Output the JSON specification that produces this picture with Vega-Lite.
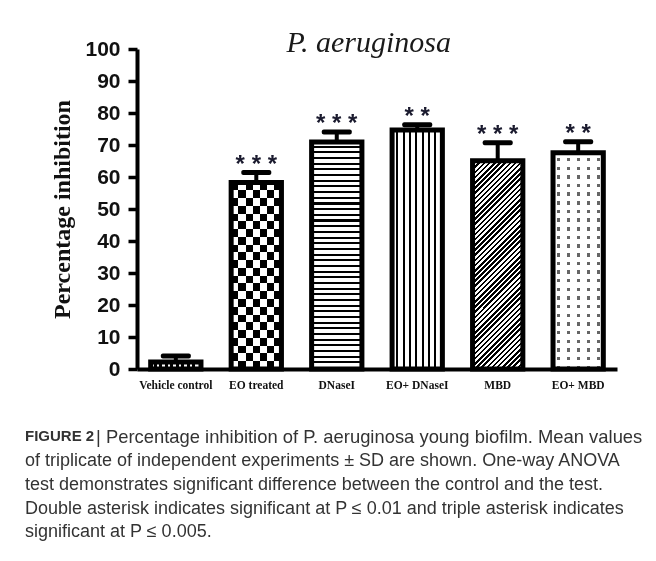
{
  "$schema": "https://vega.github.io/schema/vega-lite/v6.json",
  "autosize": {"type": "none"},
  "padding": {"left": 137, "top": 49, "right": 39, "bottom": 192},
  "width": 480,
  "height": 320,
  "background": "#ffffff",
  "config": {"view": {"stroke": null}},
  "title": {
    "text": "FIGURE 2",
    "subtitle": [
      "of triplicate of independent experiments ± SD are shown. One-way ANOVA",
      "test demonstrates significant difference between the control and the test.",
      "Double asterisk indicates significant at P ≤ 0.01 and triple asterisk indicates",
      "significant at P ≤ 0.005."
    ],
    "orient": "bottom",
    "anchor": "start",
    "frame": "group",
    "dx": -112,
    "offset": -4,
    "baseline": "alphabetic",
    "font": "Liberation Sans",
    "fontSize": 15,
    "fontWeight": "bold",
    "color": "#333333",
    "subtitleFont": "Liberation Sans",
    "subtitleFontSize": 18,
    "subtitleFontWeight": "normal",
    "subtitleColor": "#333333",
    "subtitleLineHeight": 23.7,
    "subtitlePadding": 10
  },
  "datasets": {
    "bars": [
      {"group": "Vehicle control", "mean": 2.2, "hi": 4.1, "sig": ""},
      {"group": "EO treated", "mean": 58.3, "hi": 61.4, "sig": "* * *"},
      {"group": "DNaseI", "mean": 70.9, "hi": 74.1, "sig": "* * *"},
      {"group": "EO+  DNaseI", "mean": 74.7, "hi": 76.3, "sig": "* *"},
      {"group": "MBD", "mean": 65.1, "hi": 70.7, "sig": "* * *"},
      {"group": "EO+ MBD", "mean": 67.6, "hi": 71.0, "sig": "* *"}
    ]
  },
  "data": {"name": "bars"},
  "encoding": {
    "x": {
      "field": "group",
      "type": "nominal",
      "scale": {
        "domain": ["Vehicle control", "EO treated", "DNaseI", "EO+  DNaseI", "MBD", "EO+ MBD"],
        "paddingInner": 0.375,
        "paddingOuter": 0.17
      },
      "axis": {
        "labelAngle": 0,
        "labelFont": "Liberation Serif",
        "labelFontWeight": "bold",
        "labelFontSize": 11.5,
        "labelColor": "#111111",
        "labelPadding": 10,
        "ticks": false,
        "tickSize": 0,
        "domainWidth": 4,
        "domainColor": "#000000",
        "title": "| Percentage inhibition of P. aeruginosa young biofilm. Mean values",
        "titleX": -41.5,
        "titleY": 73,
        "titleAlign": "left",
        "titleAnchor": "start",
        "titleBaseline": "alphabetic",
        "titleFont": "Liberation Sans",
        "titleFontSize": 18.4,
        "titleFontWeight": "normal",
        "titleColor": "#333333"
      }
    },
    "y": {
      "field": "mean",
      "type": "quantitative",
      "scale": {"domain": [0, 100], "nice": false},
      "axis": {
        "values": [0, 10, 20, 30, 40, 50, 60, 70, 80, 90, 100],
        "grid": false,
        "labelFont": "Liberation Sans",
        "labelFontWeight": "bold",
        "labelFontSize": 21,
        "labelColor": "#111111",
        "labelPadding": 8,
        "tickSize": 9,
        "tickWidth": 3.5,
        "tickColor": "#000000",
        "domainWidth": 4,
        "domainColor": "#000000",
        "title": "Percentage inhibition",
        "titleFont": "Liberation Serif",
        "titleFontSize": 24,
        "titleFontWeight": "bold",
        "titleColor": "#111111",
        "titlePadding": 10
      }
    }
  },
  "layer": [
    {
      "transform": [{"filter": "datum.group === 'Vehicle control'"}],
      "mark": {"type": "bar", "stroke": "#000000", "strokeWidth": 5,
        "fill": {"gradient": "linear", "x1": 0, "y1": 0, "x2": 1, "y2": 0, "stops": [
          {"offset": 0, "color": "#fff"}, {"offset": 0.06, "color": "#fff"},
          {"offset": 0.06, "color": "#000"}, {"offset": 0.12, "color": "#000"},
          {"offset": 0.12, "color": "#fff"}, {"offset": 0.17, "color": "#fff"},
          {"offset": 0.17, "color": "#000"}, {"offset": 0.23, "color": "#000"},
          {"offset": 0.23, "color": "#fff"}, {"offset": 0.28, "color": "#fff"},
          {"offset": 0.28, "color": "#000"}, {"offset": 0.34, "color": "#000"},
          {"offset": 0.34, "color": "#fff"}, {"offset": 0.39, "color": "#fff"},
          {"offset": 0.39, "color": "#000"}, {"offset": 0.45, "color": "#000"},
          {"offset": 0.45, "color": "#fff"}, {"offset": 0.5, "color": "#fff"},
          {"offset": 0.5, "color": "#000"}, {"offset": 0.56, "color": "#000"},
          {"offset": 0.56, "color": "#fff"}, {"offset": 0.61, "color": "#fff"},
          {"offset": 0.61, "color": "#000"}, {"offset": 0.67, "color": "#000"},
          {"offset": 0.67, "color": "#fff"}, {"offset": 0.72, "color": "#fff"},
          {"offset": 0.72, "color": "#000"}, {"offset": 0.78, "color": "#000"},
          {"offset": 0.78, "color": "#fff"}, {"offset": 0.83, "color": "#fff"},
          {"offset": 0.83, "color": "#000"}, {"offset": 0.89, "color": "#000"},
          {"offset": 0.89, "color": "#fff"}, {"offset": 1, "color": "#fff"}
        ]}}
    },
    {
      "transform": [{"filter": "datum.group === 'EO treated'"}],
      "mark": {"type": "bar", "stroke": "#000000", "strokeWidth": 5,
        "fill": {"gradient": "linear", "x1": 0, "y1": 0, "x2": 0, "y2": 1, "stops": [
          {"offset": 0, "color": "#000"}, {"offset": 0.0417, "color": "#000"},
          {"offset": 0.0417, "color": "#fff"}, {"offset": 0.0833, "color": "#fff"},
          {"offset": 0.0833, "color": "#000"}, {"offset": 0.125, "color": "#000"},
          {"offset": 0.125, "color": "#fff"}, {"offset": 0.1667, "color": "#fff"},
          {"offset": 0.1667, "color": "#000"}, {"offset": 0.2083, "color": "#000"},
          {"offset": 0.2083, "color": "#fff"}, {"offset": 0.25, "color": "#fff"},
          {"offset": 0.25, "color": "#000"}, {"offset": 0.2917, "color": "#000"},
          {"offset": 0.2917, "color": "#fff"}, {"offset": 0.3333, "color": "#fff"},
          {"offset": 0.3333, "color": "#000"}, {"offset": 0.375, "color": "#000"},
          {"offset": 0.375, "color": "#fff"}, {"offset": 0.4167, "color": "#fff"},
          {"offset": 0.4167, "color": "#000"}, {"offset": 0.4583, "color": "#000"},
          {"offset": 0.4583, "color": "#fff"}, {"offset": 0.5, "color": "#fff"},
          {"offset": 0.5, "color": "#000"}, {"offset": 0.5417, "color": "#000"},
          {"offset": 0.5417, "color": "#fff"}, {"offset": 0.5833, "color": "#fff"},
          {"offset": 0.5833, "color": "#000"}, {"offset": 0.625, "color": "#000"},
          {"offset": 0.625, "color": "#fff"}, {"offset": 0.6667, "color": "#fff"},
          {"offset": 0.6667, "color": "#000"}, {"offset": 0.7083, "color": "#000"},
          {"offset": 0.7083, "color": "#fff"}, {"offset": 0.75, "color": "#fff"},
          {"offset": 0.75, "color": "#000"}, {"offset": 0.7917, "color": "#000"},
          {"offset": 0.7917, "color": "#fff"}, {"offset": 0.8333, "color": "#fff"},
          {"offset": 0.8333, "color": "#000"}, {"offset": 0.875, "color": "#000"},
          {"offset": 0.875, "color": "#fff"}, {"offset": 0.9167, "color": "#fff"},
          {"offset": 0.9167, "color": "#000"}, {"offset": 0.9583, "color": "#000"},
          {"offset": 0.9583, "color": "#fff"}, {"offset": 1, "color": "#fff"}
        ]}}
    },
    {
      "transform": [{"filter": "datum.group === 'EO treated'"}],
      "mark": {"type": "bar", "stroke": "#000000", "strokeWidth": 5, "blend": "difference",
        "fill": {"gradient": "linear", "x1": 0, "y1": 0, "x2": 1, "y2": 0, "stops": [
          {"offset": 0, "color": "#000"}, {"offset": 0.1429, "color": "#000"},
          {"offset": 0.1429, "color": "#fff"}, {"offset": 0.2857, "color": "#fff"},
          {"offset": 0.2857, "color": "#000"}, {"offset": 0.4286, "color": "#000"},
          {"offset": 0.4286, "color": "#fff"}, {"offset": 0.5714, "color": "#fff"},
          {"offset": 0.5714, "color": "#000"}, {"offset": 0.7143, "color": "#000"},
          {"offset": 0.7143, "color": "#fff"}, {"offset": 0.8571, "color": "#fff"},
          {"offset": 0.8571, "color": "#000"}, {"offset": 1, "color": "#000"}
        ]}}
    },
    {
      "transform": [{"filter": "datum.group === 'DNaseI'"}],
      "mark": {"type": "bar", "stroke": "#000000", "strokeWidth": 5,
        "fill": {"gradient": "linear", "x1": 0, "y1": 0, "x2": 0, "y2": 1, "stops": [
          {"offset": 0, "color": "#fff"}, {"offset": 0.016, "color": "#fff"}, {"offset": 0.016, "color": "#000"}, {"offset": 0.025, "color": "#000"},
          {"offset": 0.025, "color": "#fff"}, {"offset": 0.041, "color": "#fff"}, {"offset": 0.041, "color": "#000"}, {"offset": 0.05, "color": "#000"},
          {"offset": 0.05, "color": "#fff"}, {"offset": 0.066, "color": "#fff"}, {"offset": 0.066, "color": "#000"}, {"offset": 0.075, "color": "#000"},
          {"offset": 0.075, "color": "#fff"}, {"offset": 0.091, "color": "#fff"}, {"offset": 0.091, "color": "#000"}, {"offset": 0.1, "color": "#000"},
          {"offset": 0.1, "color": "#fff"}, {"offset": 0.116, "color": "#fff"}, {"offset": 0.116, "color": "#000"}, {"offset": 0.125, "color": "#000"},
          {"offset": 0.125, "color": "#fff"}, {"offset": 0.141, "color": "#fff"}, {"offset": 0.141, "color": "#000"}, {"offset": 0.15, "color": "#000"},
          {"offset": 0.15, "color": "#fff"}, {"offset": 0.166, "color": "#fff"}, {"offset": 0.166, "color": "#000"}, {"offset": 0.175, "color": "#000"},
          {"offset": 0.175, "color": "#fff"}, {"offset": 0.191, "color": "#fff"}, {"offset": 0.191, "color": "#000"}, {"offset": 0.2, "color": "#000"},
          {"offset": 0.2, "color": "#fff"}, {"offset": 0.216, "color": "#fff"}, {"offset": 0.216, "color": "#000"}, {"offset": 0.225, "color": "#000"},
          {"offset": 0.225, "color": "#fff"}, {"offset": 0.241, "color": "#fff"}, {"offset": 0.241, "color": "#000"}, {"offset": 0.25, "color": "#000"},
          {"offset": 0.25, "color": "#fff"}, {"offset": 0.266, "color": "#fff"}, {"offset": 0.266, "color": "#000"}, {"offset": 0.275, "color": "#000"},
          {"offset": 0.275, "color": "#fff"}, {"offset": 0.291, "color": "#fff"}, {"offset": 0.291, "color": "#000"}, {"offset": 0.3, "color": "#000"},
          {"offset": 0.3, "color": "#fff"}, {"offset": 0.316, "color": "#fff"}, {"offset": 0.316, "color": "#000"}, {"offset": 0.325, "color": "#000"},
          {"offset": 0.325, "color": "#fff"}, {"offset": 0.341, "color": "#fff"}, {"offset": 0.341, "color": "#000"}, {"offset": 0.35, "color": "#000"},
          {"offset": 0.35, "color": "#fff"}, {"offset": 0.366, "color": "#fff"}, {"offset": 0.366, "color": "#000"}, {"offset": 0.375, "color": "#000"},
          {"offset": 0.375, "color": "#fff"}, {"offset": 0.391, "color": "#fff"}, {"offset": 0.391, "color": "#000"}, {"offset": 0.4, "color": "#000"},
          {"offset": 0.4, "color": "#fff"}, {"offset": 0.416, "color": "#fff"}, {"offset": 0.416, "color": "#000"}, {"offset": 0.425, "color": "#000"},
          {"offset": 0.425, "color": "#fff"}, {"offset": 0.441, "color": "#fff"}, {"offset": 0.441, "color": "#000"}, {"offset": 0.45, "color": "#000"},
          {"offset": 0.45, "color": "#fff"}, {"offset": 0.466, "color": "#fff"}, {"offset": 0.466, "color": "#000"}, {"offset": 0.475, "color": "#000"},
          {"offset": 0.475, "color": "#fff"}, {"offset": 0.491, "color": "#fff"}, {"offset": 0.491, "color": "#000"}, {"offset": 0.5, "color": "#000"},
          {"offset": 0.5, "color": "#fff"}, {"offset": 0.516, "color": "#fff"}, {"offset": 0.516, "color": "#000"}, {"offset": 0.525, "color": "#000"},
          {"offset": 0.525, "color": "#fff"}, {"offset": 0.541, "color": "#fff"}, {"offset": 0.541, "color": "#000"}, {"offset": 0.55, "color": "#000"},
          {"offset": 0.55, "color": "#fff"}, {"offset": 0.566, "color": "#fff"}, {"offset": 0.566, "color": "#000"}, {"offset": 0.575, "color": "#000"},
          {"offset": 0.575, "color": "#fff"}, {"offset": 0.591, "color": "#fff"}, {"offset": 0.591, "color": "#000"}, {"offset": 0.6, "color": "#000"},
          {"offset": 0.6, "color": "#fff"}, {"offset": 0.616, "color": "#fff"}, {"offset": 0.616, "color": "#000"}, {"offset": 0.625, "color": "#000"},
          {"offset": 0.625, "color": "#fff"}, {"offset": 0.641, "color": "#fff"}, {"offset": 0.641, "color": "#000"}, {"offset": 0.65, "color": "#000"},
          {"offset": 0.65, "color": "#fff"}, {"offset": 0.666, "color": "#fff"}, {"offset": 0.666, "color": "#000"}, {"offset": 0.675, "color": "#000"},
          {"offset": 0.675, "color": "#fff"}, {"offset": 0.691, "color": "#fff"}, {"offset": 0.691, "color": "#000"}, {"offset": 0.7, "color": "#000"},
          {"offset": 0.7, "color": "#fff"}, {"offset": 0.716, "color": "#fff"}, {"offset": 0.716, "color": "#000"}, {"offset": 0.725, "color": "#000"},
          {"offset": 0.725, "color": "#fff"}, {"offset": 0.741, "color": "#fff"}, {"offset": 0.741, "color": "#000"}, {"offset": 0.75, "color": "#000"},
          {"offset": 0.75, "color": "#fff"}, {"offset": 0.766, "color": "#fff"}, {"offset": 0.766, "color": "#000"}, {"offset": 0.775, "color": "#000"},
          {"offset": 0.775, "color": "#fff"}, {"offset": 0.791, "color": "#fff"}, {"offset": 0.791, "color": "#000"}, {"offset": 0.8, "color": "#000"},
          {"offset": 0.8, "color": "#fff"}, {"offset": 0.816, "color": "#fff"}, {"offset": 0.816, "color": "#000"}, {"offset": 0.825, "color": "#000"},
          {"offset": 0.825, "color": "#fff"}, {"offset": 0.841, "color": "#fff"}, {"offset": 0.841, "color": "#000"}, {"offset": 0.85, "color": "#000"},
          {"offset": 0.85, "color": "#fff"}, {"offset": 0.866, "color": "#fff"}, {"offset": 0.866, "color": "#000"}, {"offset": 0.875, "color": "#000"},
          {"offset": 0.875, "color": "#fff"}, {"offset": 0.891, "color": "#fff"}, {"offset": 0.891, "color": "#000"}, {"offset": 0.9, "color": "#000"},
          {"offset": 0.9, "color": "#fff"}, {"offset": 0.916, "color": "#fff"}, {"offset": 0.916, "color": "#000"}, {"offset": 0.925, "color": "#000"},
          {"offset": 0.925, "color": "#fff"}, {"offset": 0.941, "color": "#fff"}, {"offset": 0.941, "color": "#000"}, {"offset": 0.95, "color": "#000"},
          {"offset": 0.95, "color": "#fff"}, {"offset": 0.966, "color": "#fff"}, {"offset": 0.966, "color": "#000"}, {"offset": 0.975, "color": "#000"},
          {"offset": 0.975, "color": "#fff"}, {"offset": 0.991, "color": "#fff"}, {"offset": 0.991, "color": "#000"}, {"offset": 1, "color": "#000"}
        ]}}
    },
    {
      "transform": [{"filter": "datum.group === 'EO+  DNaseI'"}],
      "mark": {"type": "bar", "stroke": "#000000", "strokeWidth": 5,
        "fill": {"gradient": "linear", "x1": 0, "y1": 0, "x2": 1, "y2": 0, "stops": [
          {"offset": 0, "color": "#fff"}, {"offset": 0.085, "color": "#fff"}, {"offset": 0.085, "color": "#000"}, {"offset": 0.125, "color": "#000"},
          {"offset": 0.125, "color": "#fff"}, {"offset": 0.21, "color": "#fff"}, {"offset": 0.21, "color": "#000"}, {"offset": 0.25, "color": "#000"},
          {"offset": 0.25, "color": "#fff"}, {"offset": 0.335, "color": "#fff"}, {"offset": 0.335, "color": "#000"}, {"offset": 0.375, "color": "#000"},
          {"offset": 0.375, "color": "#fff"}, {"offset": 0.46, "color": "#fff"}, {"offset": 0.46, "color": "#000"}, {"offset": 0.5, "color": "#000"},
          {"offset": 0.5, "color": "#fff"}, {"offset": 0.585, "color": "#fff"}, {"offset": 0.585, "color": "#000"}, {"offset": 0.625, "color": "#000"},
          {"offset": 0.625, "color": "#fff"}, {"offset": 0.71, "color": "#fff"}, {"offset": 0.71, "color": "#000"}, {"offset": 0.75, "color": "#000"},
          {"offset": 0.75, "color": "#fff"}, {"offset": 0.835, "color": "#fff"}, {"offset": 0.835, "color": "#000"}, {"offset": 0.875, "color": "#000"},
          {"offset": 0.875, "color": "#fff"}, {"offset": 0.96, "color": "#fff"}, {"offset": 0.96, "color": "#000"}, {"offset": 1, "color": "#000"}
        ]}}
    },
    {
      "transform": [{"filter": "datum.group === 'MBD'"}],
      "mark": {"type": "bar", "stroke": "#000000", "strokeWidth": 5,
        "fill": {"gradient": "linear", "x1": 0, "y1": 0, "x2": 0.2833, "y2": 1.1731, "stops": [
          {"offset": 0, "color": "#fff"}, {"offset": 0.01, "color": "#fff"}, {"offset": 0.01, "color": "#000"}, {"offset": 0.02, "color": "#000"},
          {"offset": 0.02, "color": "#fff"}, {"offset": 0.03, "color": "#fff"}, {"offset": 0.03, "color": "#000"}, {"offset": 0.04, "color": "#000"},
          {"offset": 0.04, "color": "#fff"}, {"offset": 0.05, "color": "#fff"}, {"offset": 0.05, "color": "#000"}, {"offset": 0.06, "color": "#000"},
          {"offset": 0.06, "color": "#fff"}, {"offset": 0.07, "color": "#fff"}, {"offset": 0.07, "color": "#000"}, {"offset": 0.08, "color": "#000"},
          {"offset": 0.08, "color": "#fff"}, {"offset": 0.09, "color": "#fff"}, {"offset": 0.09, "color": "#000"}, {"offset": 0.1, "color": "#000"},
          {"offset": 0.1, "color": "#fff"}, {"offset": 0.11, "color": "#fff"}, {"offset": 0.11, "color": "#000"}, {"offset": 0.12, "color": "#000"},
          {"offset": 0.12, "color": "#fff"}, {"offset": 0.13, "color": "#fff"}, {"offset": 0.13, "color": "#000"}, {"offset": 0.14, "color": "#000"},
          {"offset": 0.14, "color": "#fff"}, {"offset": 0.15, "color": "#fff"}, {"offset": 0.15, "color": "#000"}, {"offset": 0.16, "color": "#000"},
          {"offset": 0.16, "color": "#fff"}, {"offset": 0.17, "color": "#fff"}, {"offset": 0.17, "color": "#000"}, {"offset": 0.18, "color": "#000"},
          {"offset": 0.18, "color": "#fff"}, {"offset": 0.19, "color": "#fff"}, {"offset": 0.19, "color": "#000"}, {"offset": 0.2, "color": "#000"},
          {"offset": 0.2, "color": "#fff"}, {"offset": 0.21, "color": "#fff"}, {"offset": 0.21, "color": "#000"}, {"offset": 0.22, "color": "#000"},
          {"offset": 0.22, "color": "#fff"}, {"offset": 0.23, "color": "#fff"}, {"offset": 0.23, "color": "#000"}, {"offset": 0.24, "color": "#000"},
          {"offset": 0.24, "color": "#fff"}, {"offset": 0.25, "color": "#fff"}, {"offset": 0.25, "color": "#000"}, {"offset": 0.26, "color": "#000"},
          {"offset": 0.26, "color": "#fff"}, {"offset": 0.27, "color": "#fff"}, {"offset": 0.27, "color": "#000"}, {"offset": 0.28, "color": "#000"},
          {"offset": 0.28, "color": "#fff"}, {"offset": 0.29, "color": "#fff"}, {"offset": 0.29, "color": "#000"}, {"offset": 0.3, "color": "#000"},
          {"offset": 0.3, "color": "#fff"}, {"offset": 0.31, "color": "#fff"}, {"offset": 0.31, "color": "#000"}, {"offset": 0.32, "color": "#000"},
          {"offset": 0.32, "color": "#fff"}, {"offset": 0.33, "color": "#fff"}, {"offset": 0.33, "color": "#000"}, {"offset": 0.34, "color": "#000"},
          {"offset": 0.34, "color": "#fff"}, {"offset": 0.35, "color": "#fff"}, {"offset": 0.35, "color": "#000"}, {"offset": 0.36, "color": "#000"},
          {"offset": 0.36, "color": "#fff"}, {"offset": 0.37, "color": "#fff"}, {"offset": 0.37, "color": "#000"}, {"offset": 0.38, "color": "#000"},
          {"offset": 0.38, "color": "#fff"}, {"offset": 0.39, "color": "#fff"}, {"offset": 0.39, "color": "#000"}, {"offset": 0.4, "color": "#000"},
          {"offset": 0.4, "color": "#fff"}, {"offset": 0.41, "color": "#fff"}, {"offset": 0.41, "color": "#000"}, {"offset": 0.42, "color": "#000"},
          {"offset": 0.42, "color": "#fff"}, {"offset": 0.43, "color": "#fff"}, {"offset": 0.43, "color": "#000"}, {"offset": 0.44, "color": "#000"},
          {"offset": 0.44, "color": "#fff"}, {"offset": 0.45, "color": "#fff"}, {"offset": 0.45, "color": "#000"}, {"offset": 0.46, "color": "#000"},
          {"offset": 0.46, "color": "#fff"}, {"offset": 0.47, "color": "#fff"}, {"offset": 0.47, "color": "#000"}, {"offset": 0.48, "color": "#000"},
          {"offset": 0.48, "color": "#fff"}, {"offset": 0.49, "color": "#fff"}, {"offset": 0.49, "color": "#000"}, {"offset": 0.5, "color": "#000"},
          {"offset": 0.5, "color": "#fff"}, {"offset": 0.51, "color": "#fff"}, {"offset": 0.51, "color": "#000"}, {"offset": 0.52, "color": "#000"},
          {"offset": 0.52, "color": "#fff"}, {"offset": 0.53, "color": "#fff"}, {"offset": 0.53, "color": "#000"}, {"offset": 0.54, "color": "#000"},
          {"offset": 0.54, "color": "#fff"}, {"offset": 0.55, "color": "#fff"}, {"offset": 0.55, "color": "#000"}, {"offset": 0.56, "color": "#000"},
          {"offset": 0.56, "color": "#fff"}, {"offset": 0.57, "color": "#fff"}, {"offset": 0.57, "color": "#000"}, {"offset": 0.58, "color": "#000"},
          {"offset": 0.58, "color": "#fff"}, {"offset": 0.59, "color": "#fff"}, {"offset": 0.59, "color": "#000"}, {"offset": 0.6, "color": "#000"},
          {"offset": 0.6, "color": "#fff"}, {"offset": 0.61, "color": "#fff"}, {"offset": 0.61, "color": "#000"}, {"offset": 0.62, "color": "#000"},
          {"offset": 0.62, "color": "#fff"}, {"offset": 0.63, "color": "#fff"}, {"offset": 0.63, "color": "#000"}, {"offset": 0.64, "color": "#000"},
          {"offset": 0.64, "color": "#fff"}, {"offset": 0.65, "color": "#fff"}, {"offset": 0.65, "color": "#000"}, {"offset": 0.66, "color": "#000"},
          {"offset": 0.66, "color": "#fff"}, {"offset": 0.67, "color": "#fff"}, {"offset": 0.67, "color": "#000"}, {"offset": 0.68, "color": "#000"},
          {"offset": 0.68, "color": "#fff"}, {"offset": 0.69, "color": "#fff"}, {"offset": 0.69, "color": "#000"}, {"offset": 0.7, "color": "#000"},
          {"offset": 0.7, "color": "#fff"}, {"offset": 0.71, "color": "#fff"}, {"offset": 0.71, "color": "#000"}, {"offset": 0.72, "color": "#000"},
          {"offset": 0.72, "color": "#fff"}, {"offset": 0.73, "color": "#fff"}, {"offset": 0.73, "color": "#000"}, {"offset": 0.74, "color": "#000"},
          {"offset": 0.74, "color": "#fff"}, {"offset": 0.75, "color": "#fff"}, {"offset": 0.75, "color": "#000"}, {"offset": 0.76, "color": "#000"},
          {"offset": 0.76, "color": "#fff"}, {"offset": 0.77, "color": "#fff"}, {"offset": 0.77, "color": "#000"}, {"offset": 0.78, "color": "#000"},
          {"offset": 0.78, "color": "#fff"}, {"offset": 0.79, "color": "#fff"}, {"offset": 0.79, "color": "#000"}, {"offset": 0.8, "color": "#000"},
          {"offset": 0.8, "color": "#fff"}, {"offset": 0.81, "color": "#fff"}, {"offset": 0.81, "color": "#000"}, {"offset": 0.82, "color": "#000"},
          {"offset": 0.82, "color": "#fff"}, {"offset": 0.83, "color": "#fff"}, {"offset": 0.83, "color": "#000"}, {"offset": 0.84, "color": "#000"},
          {"offset": 0.84, "color": "#fff"}, {"offset": 0.85, "color": "#fff"}, {"offset": 0.85, "color": "#000"}, {"offset": 0.86, "color": "#000"},
          {"offset": 0.86, "color": "#fff"}, {"offset": 0.87, "color": "#fff"}, {"offset": 0.87, "color": "#000"}, {"offset": 0.88, "color": "#000"},
          {"offset": 0.88, "color": "#fff"}, {"offset": 0.89, "color": "#fff"}, {"offset": 0.89, "color": "#000"}, {"offset": 0.9, "color": "#000"},
          {"offset": 0.9, "color": "#fff"}, {"offset": 0.91, "color": "#fff"}, {"offset": 0.91, "color": "#000"}, {"offset": 0.92, "color": "#000"},
          {"offset": 0.92, "color": "#fff"}, {"offset": 0.93, "color": "#fff"}, {"offset": 0.93, "color": "#000"}, {"offset": 0.94, "color": "#000"},
          {"offset": 0.94, "color": "#fff"}, {"offset": 0.95, "color": "#fff"}, {"offset": 0.95, "color": "#000"}, {"offset": 0.96, "color": "#000"},
          {"offset": 0.96, "color": "#fff"}, {"offset": 0.97, "color": "#fff"}, {"offset": 0.97, "color": "#000"}, {"offset": 0.98, "color": "#000"},
          {"offset": 0.98, "color": "#fff"}, {"offset": 0.99, "color": "#fff"}, {"offset": 0.99, "color": "#000"}, {"offset": 1, "color": "#000"}
        ]}}
    },
    {
      "transform": [{"filter": "datum.group === 'EO+ MBD'"}],
      "mark": {"type": "bar", "stroke": "#000000", "strokeWidth": 5,
        "fill": {"gradient": "linear", "x1": 0, "y1": 0, "x2": 0, "y2": 1, "stops": [
          {"offset": 0, "color": "#fff"}, {"offset": 0.024, "color": "#fff"}, {"offset": 0.024, "color": "#666"}, {"offset": 0.04, "color": "#666"},
          {"offset": 0.04, "color": "#fff"}, {"offset": 0.064, "color": "#fff"}, {"offset": 0.064, "color": "#666"}, {"offset": 0.08, "color": "#666"},
          {"offset": 0.08, "color": "#fff"}, {"offset": 0.104, "color": "#fff"}, {"offset": 0.104, "color": "#666"}, {"offset": 0.12, "color": "#666"},
          {"offset": 0.12, "color": "#fff"}, {"offset": 0.144, "color": "#fff"}, {"offset": 0.144, "color": "#666"}, {"offset": 0.16, "color": "#666"},
          {"offset": 0.16, "color": "#fff"}, {"offset": 0.184, "color": "#fff"}, {"offset": 0.184, "color": "#666"}, {"offset": 0.2, "color": "#666"},
          {"offset": 0.2, "color": "#fff"}, {"offset": 0.224, "color": "#fff"}, {"offset": 0.224, "color": "#666"}, {"offset": 0.24, "color": "#666"},
          {"offset": 0.24, "color": "#fff"}, {"offset": 0.264, "color": "#fff"}, {"offset": 0.264, "color": "#666"}, {"offset": 0.28, "color": "#666"},
          {"offset": 0.28, "color": "#fff"}, {"offset": 0.304, "color": "#fff"}, {"offset": 0.304, "color": "#666"}, {"offset": 0.32, "color": "#666"},
          {"offset": 0.32, "color": "#fff"}, {"offset": 0.344, "color": "#fff"}, {"offset": 0.344, "color": "#666"}, {"offset": 0.36, "color": "#666"},
          {"offset": 0.36, "color": "#fff"}, {"offset": 0.384, "color": "#fff"}, {"offset": 0.384, "color": "#666"}, {"offset": 0.4, "color": "#666"},
          {"offset": 0.4, "color": "#fff"}, {"offset": 0.424, "color": "#fff"}, {"offset": 0.424, "color": "#666"}, {"offset": 0.44, "color": "#666"},
          {"offset": 0.44, "color": "#fff"}, {"offset": 0.464, "color": "#fff"}, {"offset": 0.464, "color": "#666"}, {"offset": 0.48, "color": "#666"},
          {"offset": 0.48, "color": "#fff"}, {"offset": 0.504, "color": "#fff"}, {"offset": 0.504, "color": "#666"}, {"offset": 0.52, "color": "#666"},
          {"offset": 0.52, "color": "#fff"}, {"offset": 0.544, "color": "#fff"}, {"offset": 0.544, "color": "#666"}, {"offset": 0.56, "color": "#666"},
          {"offset": 0.56, "color": "#fff"}, {"offset": 0.584, "color": "#fff"}, {"offset": 0.584, "color": "#666"}, {"offset": 0.6, "color": "#666"},
          {"offset": 0.6, "color": "#fff"}, {"offset": 0.624, "color": "#fff"}, {"offset": 0.624, "color": "#666"}, {"offset": 0.64, "color": "#666"},
          {"offset": 0.64, "color": "#fff"}, {"offset": 0.664, "color": "#fff"}, {"offset": 0.664, "color": "#666"}, {"offset": 0.68, "color": "#666"},
          {"offset": 0.68, "color": "#fff"}, {"offset": 0.704, "color": "#fff"}, {"offset": 0.704, "color": "#666"}, {"offset": 0.72, "color": "#666"},
          {"offset": 0.72, "color": "#fff"}, {"offset": 0.744, "color": "#fff"}, {"offset": 0.744, "color": "#666"}, {"offset": 0.76, "color": "#666"},
          {"offset": 0.76, "color": "#fff"}, {"offset": 0.784, "color": "#fff"}, {"offset": 0.784, "color": "#666"}, {"offset": 0.8, "color": "#666"},
          {"offset": 0.8, "color": "#fff"}, {"offset": 0.824, "color": "#fff"}, {"offset": 0.824, "color": "#666"}, {"offset": 0.84, "color": "#666"},
          {"offset": 0.84, "color": "#fff"}, {"offset": 0.864, "color": "#fff"}, {"offset": 0.864, "color": "#666"}, {"offset": 0.88, "color": "#666"},
          {"offset": 0.88, "color": "#fff"}, {"offset": 0.904, "color": "#fff"}, {"offset": 0.904, "color": "#666"}, {"offset": 0.92, "color": "#666"},
          {"offset": 0.92, "color": "#fff"}, {"offset": 0.944, "color": "#fff"}, {"offset": 0.944, "color": "#666"}, {"offset": 0.96, "color": "#666"},
          {"offset": 0.96, "color": "#fff"}, {"offset": 0.984, "color": "#fff"}, {"offset": 0.984, "color": "#666"}, {"offset": 1, "color": "#666"}
        ]}}
    },
    {
      "transform": [{"filter": "datum.group === 'EO+ MBD'"}],
      "mark": {"type": "bar", "stroke": "#000000", "strokeWidth": 5, "blend": "lighten",
        "fill": {"gradient": "linear", "x1": 0, "y1": 0, "x2": 1, "y2": 0, "stops": [
          {"offset": 0, "color": "#fff"}, {"offset": 0.07, "color": "#fff"}, {"offset": 0.07, "color": "#666"}, {"offset": 0.13, "color": "#666"},
          {"offset": 0.13, "color": "#fff"}, {"offset": 0.27, "color": "#fff"}, {"offset": 0.27, "color": "#666"}, {"offset": 0.33, "color": "#666"},
          {"offset": 0.33, "color": "#fff"}, {"offset": 0.47, "color": "#fff"}, {"offset": 0.47, "color": "#666"}, {"offset": 0.53, "color": "#666"},
          {"offset": 0.53, "color": "#fff"}, {"offset": 0.67, "color": "#fff"}, {"offset": 0.67, "color": "#666"}, {"offset": 0.73, "color": "#666"},
          {"offset": 0.73, "color": "#fff"}, {"offset": 0.87, "color": "#fff"}, {"offset": 0.87, "color": "#666"}, {"offset": 0.93, "color": "#666"},
          {"offset": 0.93, "color": "#fff"}, {"offset": 1, "color": "#fff"}
        ]}}
    },
    {
      "mark": {"type": "rule", "strokeWidth": 4, "color": "#000000"},
      "encoding": {"y2": {"field": "hi"}}
    },
    {
      "mark": {"type": "tick", "orient": "horizontal", "size": 30, "thickness": 5, "color": "#000000", "cornerRadius": 2, "opacity": 1},
      "encoding": {"y": {"field": "hi", "type": "quantitative"}}
    },
    {
      "mark": {"type": "text", "font": "Liberation Sans", "fontSize": 24, "fontWeight": "bold", "color": "#1a1a2e", "baseline": "alphabetic", "align": "center", "dy": -1},
      "encoding": {
        "y": {"field": "hi", "type": "quantitative"},
        "text": {"field": "sig"}
      }
    },
    {
      "transform": [{"filter": "datum.group === 'DNaseI'"}],
      "mark": {"type": "text", "font": "Liberation Serif", "fontStyle": "italic", "fontSize": 30, "color": "#1a1a1a", "baseline": "alphabetic", "align": "center", "dx": 32, "dy": 3},
      "encoding": {
        "y": {
          "datum": 100,
          "type": "quantitative",
          "axis": {
            "values": [0, 10, 20, 30, 40, 50, 60, 70, 80, 90, 100],
            "grid": false,
            "labelFont": "Liberation Sans",
            "labelFontWeight": "bold",
            "labelFontSize": 21,
            "labelColor": "#111111",
            "labelPadding": 8,
            "tickSize": 9,
            "tickWidth": 3.5,
            "tickColor": "#000000",
            "domainWidth": 4,
            "domainColor": "#000000",
            "title": "Percentage inhibition",
            "titleFont": "Liberation Serif",
            "titleFontSize": 24,
            "titleFontWeight": "bold",
            "titleColor": "#111111",
            "titlePadding": 10
          }
        },
        "text": {"value": "P. aeruginosa"}
      }
    }
  ]
}
